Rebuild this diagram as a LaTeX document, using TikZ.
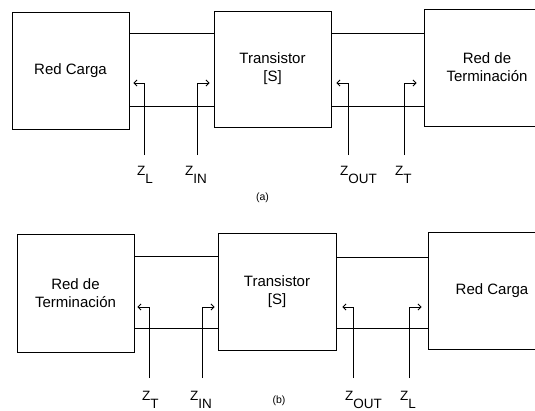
\documentclass[tikz,border=0pt]{standalone}
\usepackage{fontspec}
\setmainfont{Liberation Sans}
\usetikzlibrary{arrows.meta}
\begin{document}
\begin{tikzpicture}[x=1pt,y=-1pt,
  box/.style={draw, line width=0.9pt, inner sep=0pt, align=center,
    font=\fontsize{15}{18}\selectfont},
  wire/.style={line width=0.9pt},
  sig/.style={line width=0.9pt, -{Straight Barb[length=3pt,width=6pt]}},
  zlab/.style={inner sep=0pt, anchor=base west, font=\fontsize{13.5}{15}\selectfont},
  captext/.style={inner sep=0pt, font=\fontsize{10.5}{12}\selectfont}]
\clip (0,0) rectangle (535,410);
% ---------------- (a) ----------------
\node[box, minimum width=117pt, minimum height=117pt] (carA) at (70.5,70.5) {\raisebox{-4pt}{Red Carga}};
\node[box, minimum width=117pt, minimum height=116pt] (traA) at (272.5,69) {Transistor\\{[S]}};
\node[box, minimum width=126pt, minimum height=117pt] (terA) at (487,67.5) {Red de\\Terminación};
\draw[wire] (carA.east |- 0,33) -- (traA.west |- 0,33);
\draw[wire] (carA.east |- 0,106) -- (traA.west |- 0,106);
\draw[wire] (traA.east |- 0,33) -- (terA.west |- 0,33);
\draw[wire] (traA.east |- 0,106) -- (terA.west |- 0,106);
\node[zlab] (zLa) at (137,175) {Z\raisebox{-8pt}{L}};
\node[zlab] (zINa) at (185,175) {Z\raisebox{-8pt}{IN}};
\node[zlab] (zOUTa) at (340,175) {Z\raisebox{-8pt}{OUT}};
\node[zlab] (zTa) at (395,175) {Z\raisebox{-8pt}{T}};
\coordinate (zLab) at (144,155);
\coordinate (zINab) at (197,155);
\coordinate (zOUTab) at (348,155);
\coordinate (zTab) at (404,155);
\draw[sig] (zLab) |- ([xshift=4pt]carA.east |- 0,83);
\draw[sig] (zINab) |- ([xshift=-4pt]traA.west |- 0,83);
\draw[sig] (zOUTab) |- ([xshift=5pt]traA.east |- 0,83);
\draw[sig] (zTab) |- ([xshift=-7pt]terA.west |- 0,83);
\node[captext] (capa) at (262.5,198) {(a)};
% ---------------- (b) ----------------
\node[box, minimum width=117pt, minimum height=118pt] (terB) at (75.5,293) {Red de\\Terminación};
\node[box, minimum width=118pt, minimum height=117pt] (traB) at (277,291.5) {Transistor\\{[S]}};
\node[box, minimum width=128pt, minimum height=117pt] (carB) at (492,290.5) {\raisebox{-6pt}{Red Carga}};
\draw[wire] (terB.east |- 0,256) -- (traB.west |- 0,256);
\draw[wire] (terB.east |- 0,328) -- (traB.west |- 0,328);
\draw[wire] (traB.east |- 0,257) -- (carB.west |- 0,257);
\draw[wire] (traB.east |- 0,328) -- (carB.west |- 0,328);
\node[zlab] (zTb) at (142,400) {Z\raisebox{-8pt}{T}};
\node[zlab] (zINb) at (190,400) {Z\raisebox{-8pt}{IN}};
\node[zlab] (zOUTb) at (345,400) {Z\raisebox{-8pt}{OUT}};
\node[zlab] (zLb) at (400,400) {Z\raisebox{-8pt}{L}};
\coordinate (zTbb) at (149,378);
\coordinate (zINbb) at (202,378);
\coordinate (zOUTbb) at (353,378);
\coordinate (zLbb) at (409,378);
\draw[sig] (zTbb) |- ([xshift=3pt]terB.east |- 0,307);
\draw[sig] (zINbb) |- ([xshift=-3pt]traB.west |- 0,307);
\draw[sig] (zOUTbb) |- ([xshift=6pt]traB.east |- 0,307);
\draw[sig] (zLbb) |- ([xshift=-6pt]carB.west |- 0,307);
\node[captext] (capb) at (279,401) {(b)};
\end{tikzpicture}
\end{document}
